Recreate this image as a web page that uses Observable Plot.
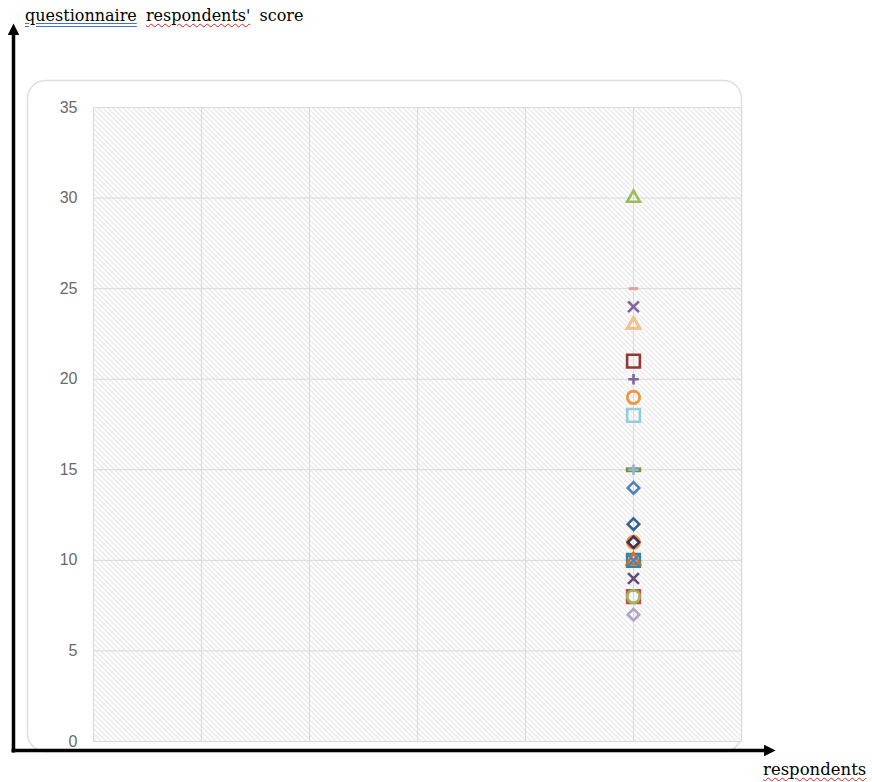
<!DOCTYPE html>
<html>
<head>
<meta charset="utf-8">
<script src="https://cdn.jsdelivr.net/npm/d3@7"></script>
<script src="https://cdn.jsdelivr.net/npm/@observablehq/plot@0.6"></script>
<style>
  html, body { margin: 0; padding: 0; background: #fff; }
  #wrap { position: relative; width: 872px; height: 782px; overflow: hidden; }
  #wrap svg { position: absolute; left: 0; top: 0; }
  .lbl { position: absolute; font-family: "DejaVu Serif", serif; font-size: 16px; color: #000; white-space: nowrap; word-spacing: 4px; }
  .blue { text-decoration: underline double #3f6fd8; text-underline-offset: 2px; }
  .wavy { text-decoration: underline wavy #e02020; text-decoration-thickness: 1px; text-underline-offset: 2px; }
</style>
</head>
<body>
<div id="wrap"></div>
<script>
// ---- data ----
const titleY = ["questionnaire", "respondents'", "score"];
const titleX = "respondents";
const yTicks = [0, 5, 10, 15, 20, 25, 30, 35];
const xTicks = [0, 1, 2, 3, 4, 5, 6];
const respondent = 5;
const scores  = [30, 25, 24, 23, 23, 21, 20, 19, 19, 18, 15, 15, 14, 12, 11, 11, 10, 10, 10, 9, 8, 8, 7];
const symbols = ["triangle", "dash", "times", "triangle", "triangle", "square", "plus", "circle", "circle", "square", "longdash", "plus", "diamond", "diamond", "circle", "diamond", "square", "triangle", "times", "times", "square", "circle", "diamond"];
const colors  = ["#9bbb59", "#e6a0a0", "#8064a2", "#9bbb59", "#fac090", "#953735", "#8064a2", "#9bbb59", "#f79646", "#93cddd", "#77933c", "#95b3d7", "#4f81bd", "#366092", "#f79646", "#403151", "#31859c", "#e46c0a", "#4f81bd", "#604a7b", "#c0504d", "#9bbb59", "#b3a2c7"];

const data = scores.map((s, i) => ({x: respondent, y: s, symbol: symbols[i], color: colors[i]}));

const dash = {draw(ctx, size) { const w = Math.sqrt(size) * 0.75, h = Math.sqrt(size) * 0.24; ctx.rect(-w, -h, 2 * w, 2 * h); }};
const symStyle = {
  triangle: {symbol: "triangle", r: 4.8},
  square:   {symbol: "square", r: 7.2},
  circle:   {symbol: "circle", r: 6.2},
  diamond:  {symbol: "diamond2", r: 5.2},
  times:    {symbol: "times", r: 5.0},
  plus:     {symbol: "plus", r: 3.5},
  dash:     {symbol: dash, r: 3.6},
  longdash: {symbol: dash, r: 5.8}
};
const dotMarks = data.map(d => {
  const st = symStyle[d.symbol];
  if (st.symbol === dash) return Plot.dot([d], {x: "x", y: "y", symbol: st.symbol, r: st.r, fill: "color", stroke: "none"});
  return Plot.dot([d], {x: "x", y: "y", symbol: st.symbol, r: st.r, stroke: "color", strokeWidth: 2.6, fill: "none"});
});

const chart = Plot.plot({
  width: 872, height: 782,
  marginLeft: 93, marginRight: 131, marginTop: 107, marginBottom: 41,
  x: {domain: [0, 6], axis: null},
  y: {domain: [0, 35], axis: null},
  color: {type: "identity"},
  style: {background: "transparent", overflow: "visible"},
  marks: [
    Plot.frame({fill: "url(#hatch)", stroke: "none"}),
    Plot.gridX(xTicks, {stroke: "#d9d9d9", strokeOpacity: 1, strokeWidth: 1}),
    Plot.gridY(yTicks, {stroke: "#d9d9d9", strokeOpacity: 1, strokeWidth: 1}),
    Plot.axisY(yTicks, {label: null, tickSize: 0, tickPadding: 16, fontSize: 16, fill: "#6a6a6a", fontFamily: "Liberation Sans, Arial, sans-serif"}),
    ...dotMarks
  ]
});

// decorations
const svg = d3.select(chart);
const defs = svg.insert("defs", ":first-child");
const pat = defs.append("pattern").attr("id", "hatch").attr("patternUnits", "userSpaceOnUse").attr("width", 5).attr("height", 5);
pat.append("rect").attr("width", 5).attr("height", 5).attr("fill", "#ffffff");
pat.append("path").attr("d", "M0,0L5,5M-1,4L1,6M4,-1L6,1").attr("stroke", "#d4d4d4").attr("stroke-width", 1);
const arrow = defs.append("marker").attr("id", "arr").attr("viewBox", "0 0 10 10").attr("refX", 6).attr("refY", 5)
  .attr("markerWidth", 3.3).attr("markerHeight", 3.3).attr("orient", "auto").attr("markerUnits", "strokeWidth");
arrow.append("path").attr("d", "M0,0L10,5L0,10Z").attr("fill", "#000");

svg.insert("rect", "defs + *").attr("x", 27.5).attr("y", 80.5).attr("width", 714).attr("height", 671).attr("rx", 18)
  .attr("fill", "#fff").attr("stroke", "#dedede").attr("stroke-width", 1.5);

const left = 13.5, bottom = 750.5;
svg.append("path").attr("d", `M${left},${bottom + 2}V28`).attr("stroke", "#000").attr("stroke-width", 3.5).attr("fill", "none").attr("marker-end", "url(#arr)");
svg.append("path").attr("d", `M${left - 2},${bottom}H771`).attr("stroke", "#000").attr("stroke-width", 3.5).attr("fill", "none").attr("marker-end", "url(#arr)");

const wrap = document.getElementById("wrap");
wrap.appendChild(chart);

const t1 = document.createElement("div");
t1.className = "lbl";
t1.style.left = "25px"; t1.style.top = "6px";
t1.innerHTML = `<span class="blue">${titleY[0]}</span> <span class="wavy">${titleY[1]}</span> <span>${titleY[2]}</span>`;
wrap.appendChild(t1);

const t2 = document.createElement("div");
t2.className = "lbl";
t2.style.left = "763px"; t2.style.top = "760px"; t2.style.fontSize = "16.5px";
t2.innerHTML = `<span class="wavy">${titleX}</span>`;
wrap.appendChild(t2);
</script>
</body>
</html>
